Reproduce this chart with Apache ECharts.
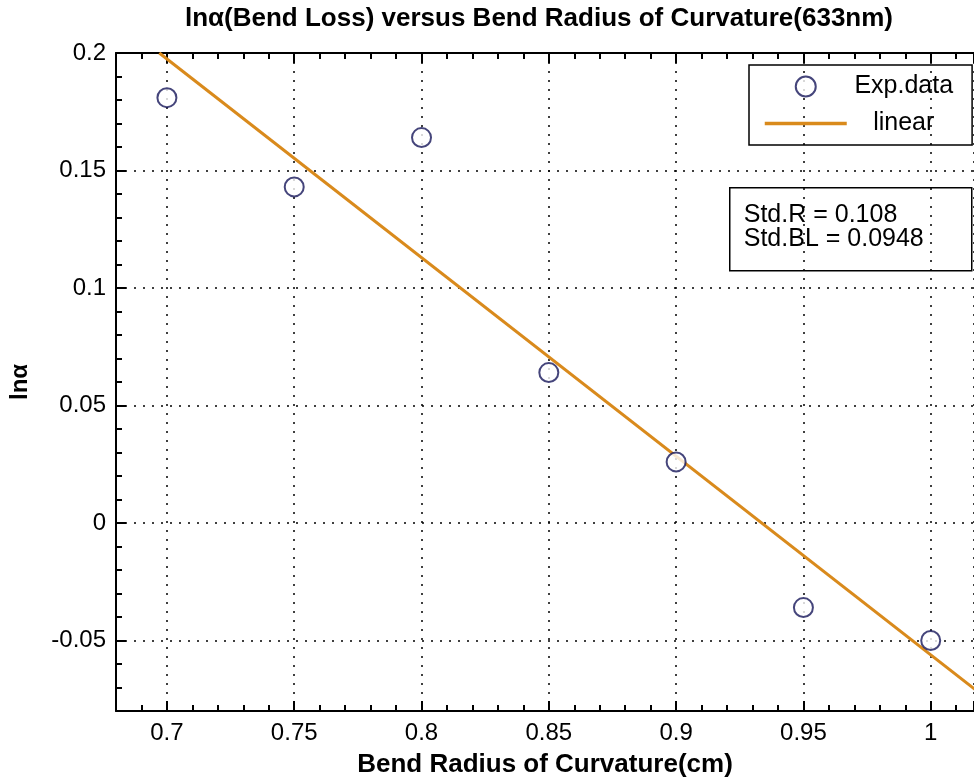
<!DOCTYPE html>
<html>
<head>
<meta charset="utf-8">
<script src="https://cdn.jsdelivr.net/npm/echarts@6/dist/echarts.min.js"></script>
<style>
  html, body { margin: 0; padding: 0; background: #fff; }
  #main { width: 974px; height: 783px; }
</style>
</head>
<body>
<div id="main"></div>
<script>
// measured points
let radius = [0.7, 0.75, 0.8, 0.85, 0.9, 0.95, 1.0]
let lnAlpha = [0.181, 0.143, 0.164, 0.064, 0.026, -0.036, -0.050]
let fitX = [0.697, 1.02]
let fitY = [0.2, -0.073]
let stdText = ['Std.R = 0.108', 'Std.BL = 0.0948']

let expData = radius.map(function (v, i) { return [v, lnAlpha[i]] })
let fitData = fitX.map(function (v, i) { return [v, fitY[i]] })

let font = 'Liberation Sans, Arial, sans-serif'
let myChart = echarts.init(document.getElementById('main'))

let tickStyle = { show: true, inside: true, length: 10, lineStyle: { color: '#000', width: 2 } }
let minorStyle = { show: true, splitNumber: 5, length: 6, lineStyle: { color: '#000', width: 2 } }
let dotted = { show: true, lineStyle: { color: '#000', width: 1.5, type: [2, 7] } }
let axisLn = { show: true, onZero: false, lineStyle: { color: '#000', width: 2 } }

let option = {
    backgroundColor: '#fff',
    animation: false,
    title: {
        text: 'lnα(Bend Loss) versus Bend Radius of Curvature(633nm)',
        left: 185,
        top: 6,
        padding: 0,
        textStyle: { fontFamily: font, fontSize: 26, fontWeight: 'bold', color: '#000' }
    },
    legend: {
        orient: 'vertical',
        left: 749,
        top: 65,
        padding: [9, 19, 9, 14],
        itemWidth: 82,
        itemHeight: 20,
        itemGap: 12,
        borderColor: '#000',
        borderWidth: 1.5,
        formatter: '{c|{name}}',
        textStyle: {
            fontFamily: font, fontSize: 25, color: '#000',
            rich: { c: { width: 104, align: 'center', fontFamily: font, fontSize: 25 } }
        },
        data: ['Exp.data', { name: 'linear', itemStyle: { opacity: 0 }, lineStyle: { width: 3.5 } }]
    },
    grid: { left: 115, top: 53, bottom: 71, right: 0 },
    xAxis: [{
        type: 'value',
        min: 0.68,
        max: 1.017,
        splitNumber: 7,
        name: 'Bend Radius of Curvature(cm)',
        nameLocation: 'middle',
        nameGap: 41,
        nameTextStyle: { fontFamily: font, fontSize: 26, fontWeight: 'bold', color: '#000' },
        axisLine: axisLn,
        axisTick: tickStyle,
        minorTick: minorStyle,
        axisLabel: { fontFamily: font, fontSize: 24, color: '#000', margin: 10, showMinLabel: false, showMaxLabel: false },
        splitLine: dotted
    }, {
        type: 'value',
        position: 'top',
        min: 0.68,
        max: 1.017,
        splitNumber: 7,
        axisLine: axisLn,
        axisTick: tickStyle,
        minorTick: minorStyle,
        axisLabel: { show: false },
        splitLine: { show: false }
    }],
    yAxis: {
        type: 'value',
        min: -0.08,
        max: 0.2,
        splitNumber: 5,
        name: 'lnα',
        nameLocation: 'middle',
        nameGap: 84,
        nameTextStyle: { fontFamily: font, fontSize: 24, fontWeight: 'bold', color: '#000' },
        axisLine: axisLn,
        axisTick: tickStyle,
        minorTick: minorStyle,
        axisLabel: { fontFamily: font, fontSize: 24, color: '#000', margin: 10, showMinLabel: false },
        splitLine: dotted
    },
    graphic: [{
        type: 'group',
        left: 729,
        top: 187,
        children: [{
            type: 'rect',
            shape: { x: 0, y: 0, width: 242, height: 83 },
            style: { fill: '#fff', stroke: '#000', lineWidth: 1.5 }
        }, {
            type: 'text',
            x: 14,
            y: 15,
            style: { text: stdText.join('\n'), fontFamily: font, fontSize: 25, lineHeight: 24, fill: '#000' }
        }]
    }],
    series: [{
        name: 'linear',
        type: 'line',
        data: fitData,
        symbol: 'none',
        lineStyle: { color: '#d98a1c', width: 3 },
        itemStyle: { color: '#d98a1c' },
        z: 2
    }, {
        name: 'Exp.data',
        type: 'scatter',
        data: expData,
        symbol: 'emptyCircle',
        symbolSize: 19,
        itemStyle: { color: '#16165a', borderColor: '#16165a', borderWidth: 1.5 },
        z: 3
    }]
}
myChart.setOption(option)
</script>
</body>
</html>
